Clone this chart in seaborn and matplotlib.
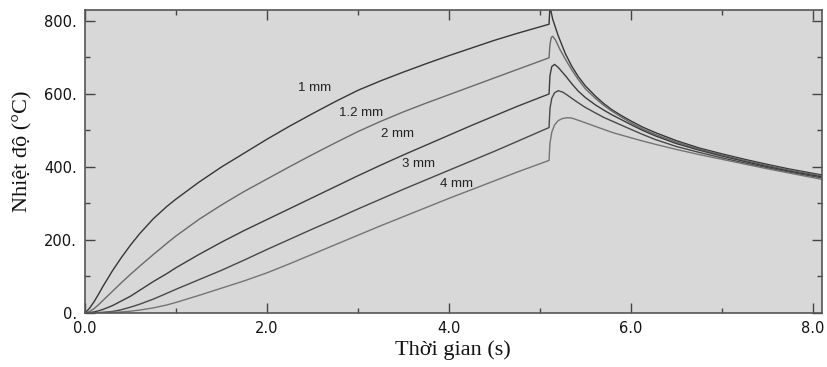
import numpy as np
import pandas as pd
import matplotlib
matplotlib.use("Agg")
import matplotlib.pyplot as plt
import seaborn as sns
from matplotlib.ticker import MultipleLocator, FuncFormatter

# ---------------- data ----------------
series_names = ["1 mm", "1.2 mm", "2 mm", "3 mm", "4 mm"]

t_heat = [0, 0.05, 0.1, 0.15, 0.2, 0.3, 0.4, 0.5, 0.6, 0.75, 0.9, 1.0, 1.25, 1.5,
          1.75, 2.0, 2.25, 2.5, 2.75, 3.0, 3.25, 3.5, 3.75, 4.0, 4.25, 4.5, 4.75, 5.1]
heat_1mm = [0, 13, 31, 52, 74, 115, 152, 186, 217, 258, 292, 312, 358, 400,
            438, 476, 512, 546, 579, 610, 636, 660, 683, 705, 726, 747, 766, 791]
heat_12mm = [0, 4, 12, 23, 35, 59, 83, 106, 128, 160, 191, 211, 256, 296,
             333, 367, 401, 434, 466, 497, 525, 551, 575, 598, 621, 644, 667, 699]
heat_2mm = [0, 1, 3, 6, 10, 20, 33, 46, 62, 86, 108, 124, 160, 194,
            226, 256, 286, 316, 346, 376, 405, 433, 460, 487, 514, 540, 566, 600]
heat_3mm = [0, 0, 0, 1, 2, 4, 9, 16, 24, 38, 54, 65, 91, 117,
            145, 174, 202, 230, 257, 285, 312, 339, 365, 391, 417, 443, 470, 508]
heat_4mm = [0, 0, 0, 0, 1, 2, 3, 5, 8, 14, 22, 29, 48, 68,
            88, 110, 135, 161, 187, 213, 239, 264, 289, 314, 338, 362, 386, 418]

t_cool_1mm = [5.11, 5.14, 5.2, 5.28, 5.35, 5.42, 5.5, 5.61, 5.7, 5.79, 5.9, 6.0,
              6.13, 6.27, 6.5, 6.75, 7.0, 7.25, 7.5, 7.75, 8.1]
cool_1mm = [840, 805, 760, 710, 676, 648, 622, 594, 574, 557, 540, 526,
            509, 494, 472, 452, 436, 421, 407, 394, 378]
t_cool_12mm = [5.11, 5.125, 5.14, 5.17, 5.22, 5.28, 5.35, 5.42, 5.5, 5.61, 5.7, 5.79,
               5.9, 6.0, 6.13, 6.27, 6.5, 6.75, 7.0, 7.25, 7.5, 7.75, 8.1]
cool_12mm = [735, 755, 758, 748, 722, 695, 666, 640, 614, 588, 569, 553,
             536, 521, 504, 489, 468, 449, 433, 418, 404, 391, 376]
t_cool_2mm = [5.11, 5.13, 5.16, 5.2, 5.28, 5.35, 5.42, 5.5, 5.61, 5.7, 5.79,
              5.9, 6.0, 6.13, 6.27, 6.5, 6.75, 7.0, 7.25, 7.5, 7.75, 8.1]
cool_2mm = [650, 675, 681, 673, 650, 628, 608, 590, 570, 556, 543,
            529, 516, 500, 485, 464, 446, 430, 415, 401, 388, 373]
t_cool_3mm = [5.11, 5.13, 5.16, 5.2, 5.25, 5.3, 5.35, 5.42, 5.5, 5.61, 5.7, 5.79,
              5.9, 6.0, 6.13, 6.27, 6.5, 6.75, 7.0, 7.25, 7.5, 7.75, 8.1]
cool_3mm = [560, 588, 603, 609, 605, 597, 588, 576, 563, 548, 536, 526,
            514, 503, 489, 475, 456, 440, 425, 411, 398, 385, 370]
t_cool_4mm = [5.11, 5.13, 5.16, 5.2, 5.25, 5.3, 5.35, 5.42, 5.5, 5.61, 5.7, 5.79,
              5.9, 6.0, 6.13, 6.27, 6.5, 6.75, 7.0, 7.25, 7.5, 7.75, 8.1]
cool_4mm = [465, 495, 515, 527, 533, 535, 534, 528, 521, 511, 503, 495,
            487, 480, 471, 462, 448, 434, 421, 408, 395, 383, 366]

label_t = [2.52, 3.03, 3.44, 3.66, 4.08]
label_T = [617, 549, 490, 408, 352]

line_colors = ["#363636", "#6a6a6a", "#3c3c3c", "#484848", "#747474"]

# ---------------- build long table ----------------
heats = [heat_1mm, heat_12mm, heat_2mm, heat_3mm, heat_4mm]
cool_ts = [t_cool_1mm, t_cool_12mm, t_cool_2mm, t_cool_3mm, t_cool_4mm]
cools = [cool_1mm, cool_12mm, cool_2mm, cool_3mm, cool_4mm]
rows = []
for name, h, tc, c in zip(series_names, heats, cool_ts, cools):
    tt = list(t_heat) + list(tc)
    vv = list(h) + list(c)
    for i, (a, b) in enumerate(zip(tt, vv)):
        rows.append({"series": name, "order": i, "t": a, "T": b})
df = pd.DataFrame(rows)

# ---------------- plot ----------------
sns.set_style("ticks")
fig = plt.figure(figsize=(8.28, 3.67), dpi=100)
fig.patch.set_facecolor("white")
ax = fig.add_axes([85 / 828, 1 - 313 / 367, 737 / 828, 303 / 367])
ax.set_facecolor("#d8d8d8")

sns.lineplot(data=df, x="t", y="T", hue="series", units="series", estimator=None,
             sort=False, palette=dict(zip(series_names, line_colors)),
             linewidth=1.0, legend=False, ax=ax)

for name, x, y in zip(series_names, label_t, label_T):
    ax.text(x, y, name, ha="center", va="center", fontsize=9.5,
            family="Liberation Sans", color="#222222")

ax.set_xlim(0, 8.1)
ax.set_ylim(0, 830)
ax.xaxis.set_major_locator(MultipleLocator(2))
ax.xaxis.set_minor_locator(MultipleLocator(1))
ax.yaxis.set_major_locator(MultipleLocator(200))
ax.yaxis.set_minor_locator(MultipleLocator(100))
ax.xaxis.set_major_formatter(FuncFormatter(lambda v, p: f"{v:.1f}"))
ax.yaxis.set_major_formatter(FuncFormatter(lambda v, p: f"{int(round(v))}."))

ax.tick_params(which="both", direction="in", top=True, right=True,
               color="#444444", width=1.0)
ax.tick_params(which="major", length=7, labelsize=10.5, pad=6, labelcolor="#111111")
ax.tick_params(which="minor", length=3.5)
for lab in ax.get_xticklabels() + ax.get_yticklabels():
    lab.set_family("DejaVu Sans")
for s in ax.spines.values():
    s.set_color("#555555")
    s.set_linewidth(1.2)

ax.set_xlabel("Thời gian (s)", fontsize=16, family="Liberation Serif", color="#111111")
ax.set_ylabel("Nhiệt độ (°C)", fontsize=16, family="Liberation Serif", color="#111111")
ax.xaxis.set_label_coords(0.499, -0.09)
ax.yaxis.set_label_coords(-0.071, 0.535)

fig.savefig("out.png", dpi=100)
